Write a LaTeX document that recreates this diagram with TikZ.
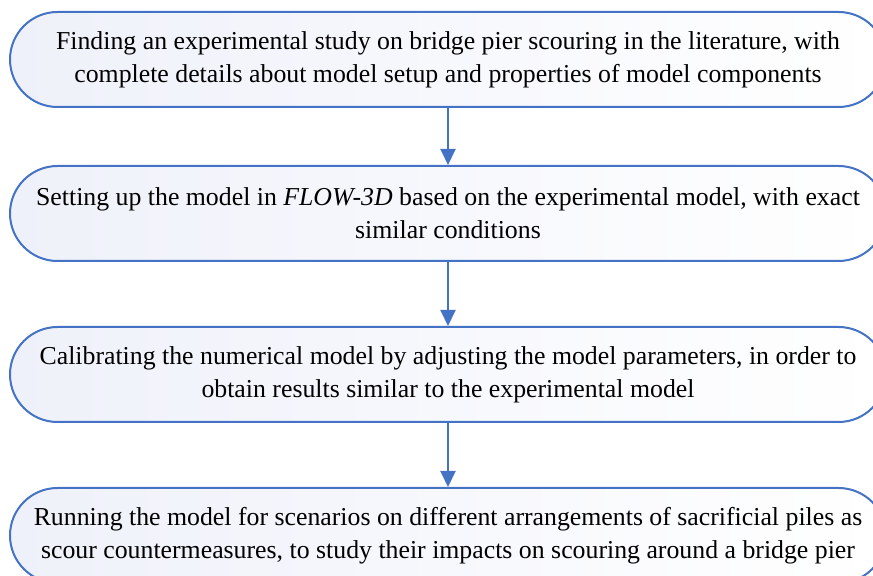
\documentclass[tikz,border=0pt]{standalone}
\usepackage{fontspec}
\setmainfont{Liberation Serif}
\usepackage{xcolor}
\usetikzlibrary{shapes,arrows.meta,positioning}

\definecolor{stepblue}{HTML}{4472C4}
\definecolor{steptint}{HTML}{EFF1FA}

\begin{document}
\begin{tikzpicture}[x=0.5pt,y=-0.5pt,
    stepbox/.style={draw=stepblue, line width=1pt, rounded corners=23.75pt,
        minimum width=438pt, minimum height=47.5pt, inner sep=0pt, align=center,
        left color=steptint, right color=white,
        font=\fontsize{12.9}{16.5}\selectfont},
    flow/.style={draw=stepblue, line width=1pt, -{Triangle[width=7.5pt,length=8pt]}}]
    \clip (0,0) rectangle (873,576);

    % Literature
    \node[stepbox] (find) at (448,59.5) {Finding an experimental study on bridge pier scouring in the literature, with\\
        complete details about model setup and properties of model components};

    % Model setup
    \node[stepbox] (setup) at (448,213.5) {Setting up the model in \textit{FLOW-3D} based on the experimental model, with exact\\
        similar conditions};

    % Calibration
    \node[stepbox] (calib) at (448,374.5) {Calibrating the numerical model by adjusting the model parameters, in order to\\
        obtain results similar to the experimental model};

    % Scenarios
    \node[stepbox] (scen) at (448,535.5) {Running the model for scenarios on different arrangements of sacrificial piles as\\
        scour countermeasures, to study their impacts on scouring around a bridge pier};

    % Arrows
    \draw[flow] (find) -- (setup);
    \draw[flow] (setup) -- (calib);
    \draw[flow] (calib) -- (scen);
\end{tikzpicture}
\end{document}
